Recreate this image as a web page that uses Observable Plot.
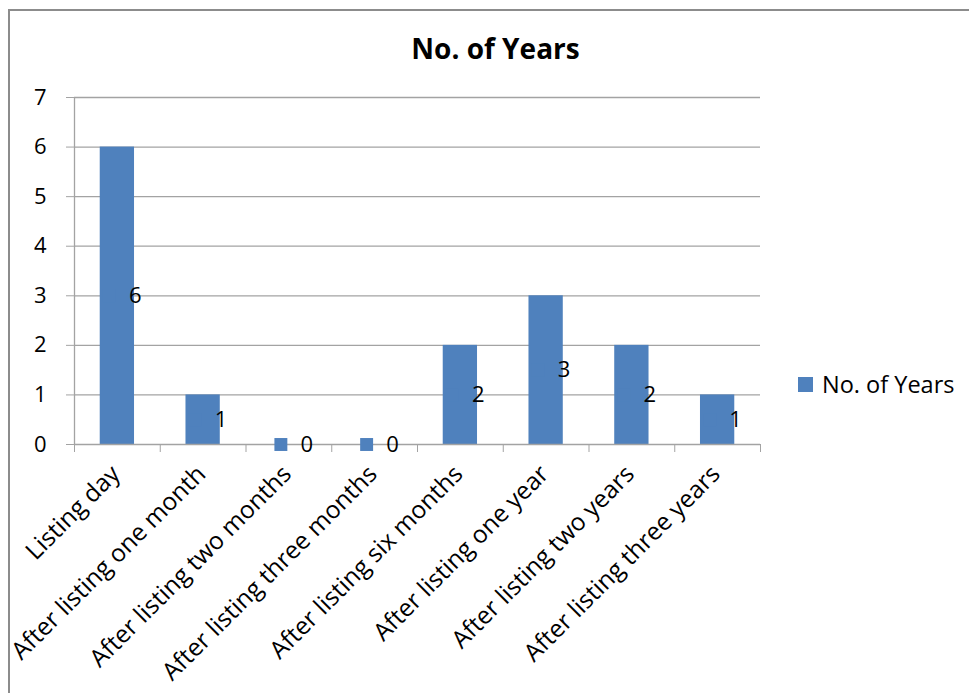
<!DOCTYPE html>
<html><head><meta charset="utf-8">
<script src="https://cdn.jsdelivr.net/npm/d3@7"></script>
<script src="https://cdn.jsdelivr.net/npm/@observablehq/plot@0.6"></script>
<style>
body{margin:0;background:#fff;font-family:"Open Sans",sans-serif;}
#wrap{position:relative;width:969px;height:693px;overflow:hidden;}
#chart{position:absolute;left:0;top:0;}
#frame{position:absolute;left:8px;top:9px;width:1000px;height:800px;border-left:2px solid #8c8c8c;border-top:2px solid #8c8c8c;}
#title{position:absolute;left:0;width:991px;top:29px;text-align:center;font-weight:bold;font-size:28px;line-height:38px;color:#000;}
#legend{position:absolute;left:798px;top:369px;font-size:23.5px;line-height:30px;display:flex;align-items:center;color:#000;}
#legend .sw{display:inline-block;width:15px;height:15px;margin-right:9px;}
</style></head><body>
<div id="wrap"><div id="frame"></div><div id="chart"></div><div id="title"></div><div id="legend"><span class="sw"></span><span class="lt"></span></div></div>
<script>
const categories = [
  "Listing day",
  "After listing one month",
  "After listing two months",
  "After listing three months",
  "After listing six months",
  "After listing one year",
  "After listing two years",
  "After listing three years"
];
const values = [6, 1, 0, 0, 2, 3, 2, 1];
const yTicks = [0, 1, 2, 3, 4, 5, 6, 7];
const seriesName = "No. of Years";
const chartTitle = "No. of Years";
const barColor = "#4F81BD";

const data = categories.map((c, i) => ({category: c, index: i, value: values[i]}));
const boundaries = d3.range(categories.length + 1);
const gray = "#a3a3a3";

document.getElementById("title").textContent = chartTitle;
document.querySelector("#legend .lt").textContent = seriesName;
document.querySelector("#legend .sw").style.background = barColor;

const chart = Plot.plot({
  width: 969,
  height: 693,
  marginLeft: 74,
  marginRight: 209,
  marginTop: 97,
  marginBottom: 249,
  style: {fontFamily: "Open Sans, sans-serif", fontSize: "22px", color: "#000", background: "transparent"},
  x: {type: "linear", domain: [0, categories.length]},
  y: {domain: [0, 7]},
  marks: [
    Plot.ruleY(yTicks.slice(1), {stroke: gray, strokeWidth: 1.3}),
    Plot.axisY({ticks: yTicks, tickSize: 8, tickPadding: 20, stroke: gray, fill: "#000", fontSize: 22, label: null, tickFormat: d => String(d)}),
    Plot.axisX({ticks: boundaries, tickSize: 8, stroke: gray, label: null, tickFormat: () => ""}),
    Plot.rectY(data, {x1: d => d.index + 0.3, x2: d => d.index + 0.7, y: "value", fill: barColor}),
    Plot.ruleX([0], {stroke: gray, strokeWidth: 1.3}),
    Plot.ruleY([0], {stroke: gray, strokeWidth: 1.3}),
    Plot.dot(data, {x: d => d.index + 0.5, y: d => d.value / 2, symbol: "square", r: 7.3, fill: barColor, stroke: null, dx: -8}),
    Plot.text(data, {x: d => d.index + 0.5, y: d => d.value / 2, text: d => String(d.value), dx: 18, fontSize: 22, fill: "#000"}),
    Plot.text(data, {x: d => d.index + 0.5, frameAnchor: "bottom", text: "category", rotate: -45, textAnchor: "end", dx: 4, dy: 31, fontSize: 24.5, fill: "#000"})
  ]
});
document.getElementById("chart").appendChild(chart);
</script>
</body></html>
